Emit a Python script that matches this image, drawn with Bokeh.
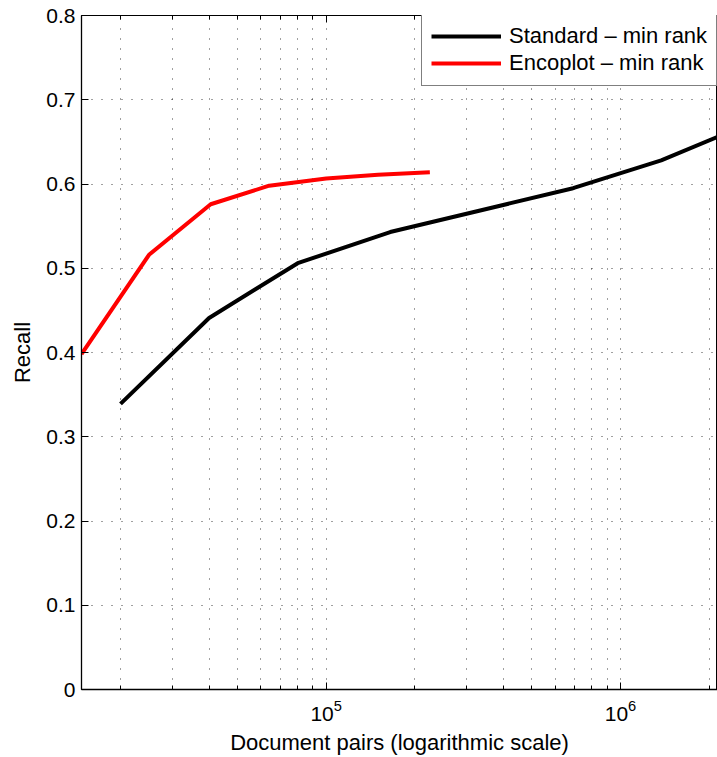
from bokeh.plotting import figure
from bokeh.models import (Range1d, FixedTicker, LogAxis, Legend, LegendItem,
                          NumeralTickFormatter)
from bokeh.embed import file_html
from bokeh.resources import INLINE

# ---- data ----
std_x = [2.0e4, 4.0e4, 8.0e4, 1.65e5, 6.9e5, 1.375e6, 2.75e6]
std_y = [0.339, 0.441, 0.506, 0.543, 0.595, 0.628, 0.672]

enc_x = [1.474e4, 2.5e4, 4.05e4, 6.4e4, 1.0e5, 1.5e5, 2.25e5]
enc_y = [0.398, 0.516, 0.576, 0.598, 0.6065, 0.611, 0.614]

x_major_ticks = [1e5, 1e6]
x_minor_ticks = [2e4, 3e4, 4e4, 5e4, 6e4, 7e4, 8e4, 9e4,
                 2e5, 3e5, 4e5, 5e5, 6e5, 7e5, 8e5, 9e5, 2e6]
y_ticks = [0, 0.1, 0.2, 0.3, 0.4, 0.5, 0.6, 0.7, 0.8]

x_label = "Document pairs (logarithmic scale)"
y_label = "Recall"
names = ["Standard \u2013 min rank", "Encoplot \u2013 min rank"]

FONT = "Liberation Sans"

p = figure(width=717, height=757, x_axis_type="log",
           x_range=Range1d(14740, 2.136e6), y_range=Range1d(0, 0.8),
           output_backend="svg", toolbar_location=None,
           min_border_left=81, min_border_top=15, min_border_right=0,
           min_border_bottom=65)
p.background_fill_color = "white"
p.outline_line_color = "black"
p.outline_line_width = 1

# axes
xa = p.xaxis[0]
xa.ticker = FixedTicker(ticks=x_major_ticks, minor_ticks=x_minor_ticks)
xa.axis_label = x_label
xa.axis_label_text_font = FONT
xa.axis_label_text_font_size = "22px"
xa.axis_label_text_font_style = "normal"
xa.axis_label_text_color = "black"
xa.axis_label_standoff = 6
xa.major_label_text_font = FONT
xa.major_label_text_font_size = "21px"
xa.major_label_text_color = "black"
xa.major_label_standoff = 10
xa.major_tick_in = 7
xa.major_tick_out = 0
xa.minor_tick_in = 4
xa.minor_tick_out = 0
xa.axis_line_color = "black"
xa.axis_line_width = 1.3
xa.major_tick_line_color = "black"
xa.minor_tick_line_color = "black"

ya = p.yaxis[0]
ya.ticker = FixedTicker(ticks=y_ticks)
ya.formatter = NumeralTickFormatter(format="0.[0]")
ya.axis_label = y_label
ya.axis_label_text_font = FONT
ya.axis_label_text_font_size = "22px"
ya.axis_label_text_font_style = "normal"
ya.axis_label_text_color = "black"
ya.axis_label_standoff = 8
ya.major_label_text_font = FONT
ya.major_label_text_font_size = "21px"
ya.major_label_text_color = "black"
ya.major_label_standoff = 6
ya.major_tick_in = 7
ya.major_tick_out = 0
ya.major_tick_line_color = "black"
ya.minor_tick_line_color = None
ya.axis_line_color = "black"
ya.axis_line_width = 1.3

top = LogAxis(ticker=FixedTicker(ticks=x_major_ticks, minor_ticks=x_minor_ticks),
              major_label_text_font_size="1px", major_label_text_color=None,
              major_label_standoff=0, major_tick_in=7, major_tick_out=0,
              minor_tick_in=4, minor_tick_out=0, axis_line_color="black",
              major_tick_line_color="black", minor_tick_line_color="black")
p.add_layout(top, "above")

# grids
p.xgrid.ticker = FixedTicker(ticks=x_major_ticks, minor_ticks=x_minor_ticks)
for g in (p.xgrid[0], p.ygrid[0]):
    g.grid_line_color = "#000000"
    g.grid_line_alpha = 0.75
    g.grid_line_dash = "1 9"
    g.grid_line_width = 1
p.xgrid.minor_grid_line_color = "#000000"
p.xgrid.minor_grid_line_alpha = 0.75
p.xgrid.minor_grid_line_dash = "1 9"
p.ygrid.ticker = FixedTicker(ticks=y_ticks)

# data lines
r_std = p.line(std_x, std_y, line_color="black", line_width=4)
r_enc = p.line(enc_x, enc_y, line_color="#ff0000", line_width=4)

legend = Legend(items=[LegendItem(label=names[0], renderers=[r_std]),
                       LegendItem(label=names[1], renderers=[r_enc])],
                location=(340, 603))
legend.label_text_font = FONT
legend.label_text_font_size = "22px"
legend.label_text_color = "black"
legend.glyph_width = 70
legend.glyph_height = 22
legend.label_height = 22
legend.label_standoff = 8
legend.padding = 9
legend.spacing = 1
legend.margin = 0
legend.border_line_color = "black"
legend.border_line_width = 1
legend.background_fill_color = "white"
legend.background_fill_alpha = 1
p.add_layout(legend, "center")

open("out.html", "w").write(file_html(p, INLINE))
